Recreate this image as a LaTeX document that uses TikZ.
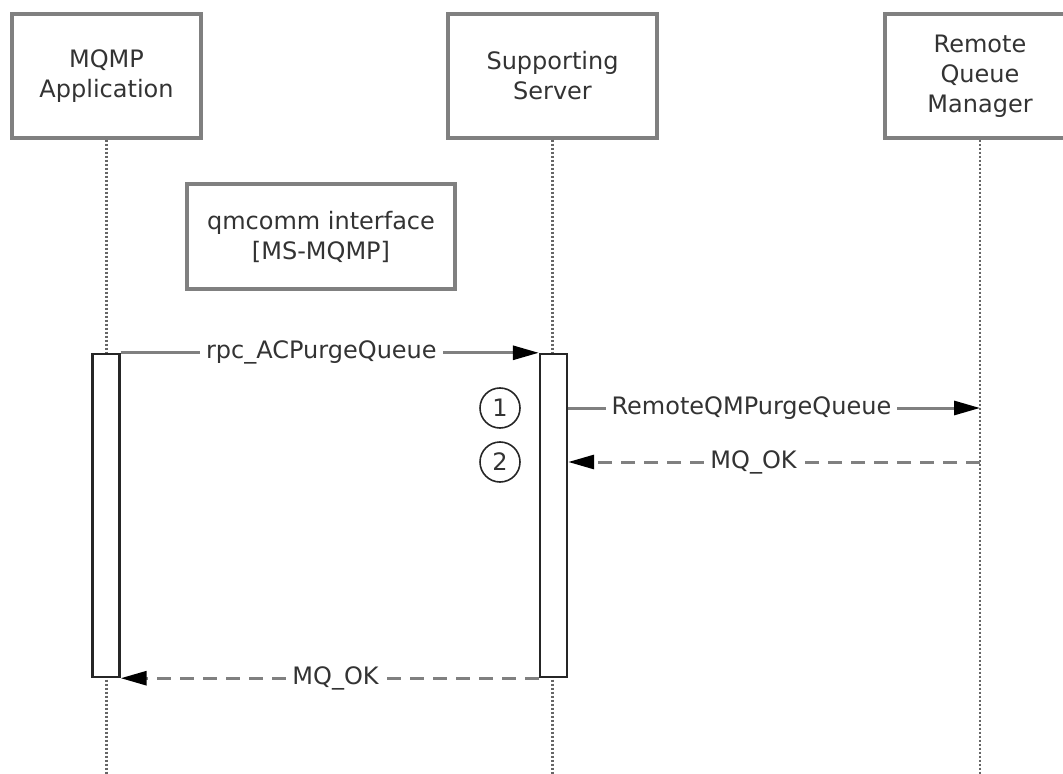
\documentclass[tikz,border=0pt]{standalone}
\usepackage{fontspec}
\setsansfont{DejaVu Sans}
\usetikzlibrary{arrows.meta}

\begin{document}
\begin{tikzpicture}[x=0.5pt,y=-0.5pt,
    every node/.style={font={\sffamily\fontsize{12}{15}\selectfont},text=black!80},
    actor/.style={draw=gray,line width=1.7pt,minimum height=62pt,align=center,inner sep=0pt},
    lifeline/.style={draw=black!60,line width=1.1pt,dash pattern=on 1pt off 1pt},
    bar/.style={draw=black!85,line width=1.2pt,fill=white,minimum width=13.5pt,minimum height=161.5pt,inner sep=0pt},
    msg/.style={draw=gray,line width=1.5pt,-{Triangle[length=13pt,width=7pt,color=black]}},
    reply/.style={msg,dash pattern=on 7pt off 4.5pt},
    lbl/.style={fill=white,inner sep=3pt},
    num/.style={circle,draw=black!85,line width=0.8pt,minimum size=20pt,inner sep=0pt}]
\useasboundingbox (0,0) rectangle (1063,774);

\node[actor,minimum width=94.5pt] (app) at (106.5,76) {MQMP\\Application};
\node[actor,minimum width=104.5pt] (srv) at (552.5,76) {Supporting\\Server};
\node[actor,minimum width=95pt] (rqm) at (980,76) {Remote\\Queue\\Manager};

\node[actor,minimum width=134pt,minimum height=52.5pt] (iface) at (321,236.5)
    {qmcomm interface\\{}[MS-MQMP]};

\draw[lifeline] (app.south) -- (app.south |- 0,774);
\draw[lifeline] (srv.south) -- (srv.south |- 0,774);
\draw[lifeline] (rqm.south) -- (rqm.south |- 0,774);

\node[bar] (appbar) at (106,515.5) {};
\node[bar] (srvbar) at (553.5,515.5) {};

\node[num] (n1) at (500,408) {1};
\node[num] (n2) at (500,462) {2};

\draw[msg] (appbar.north east) -- (srvbar.north west)
    node[lbl,pos=0.48] {rpc\_ACPurgeQueue};
\draw[msg] (srvbar.east |- n1) -- (rqm.south |- n1)
    node[lbl,pos=0.445] {RemoteQMPurgeQueue};
\draw[reply] (rqm.south |- n2) -- (srvbar.east |- n2)
    node[lbl,pos=0.55] {MQ\_OK};
\draw[reply] (srvbar.south west) -- (appbar.south east)
    node[lbl,pos=0.486] {MQ\_OK};
\end{tikzpicture}
\end{document}
